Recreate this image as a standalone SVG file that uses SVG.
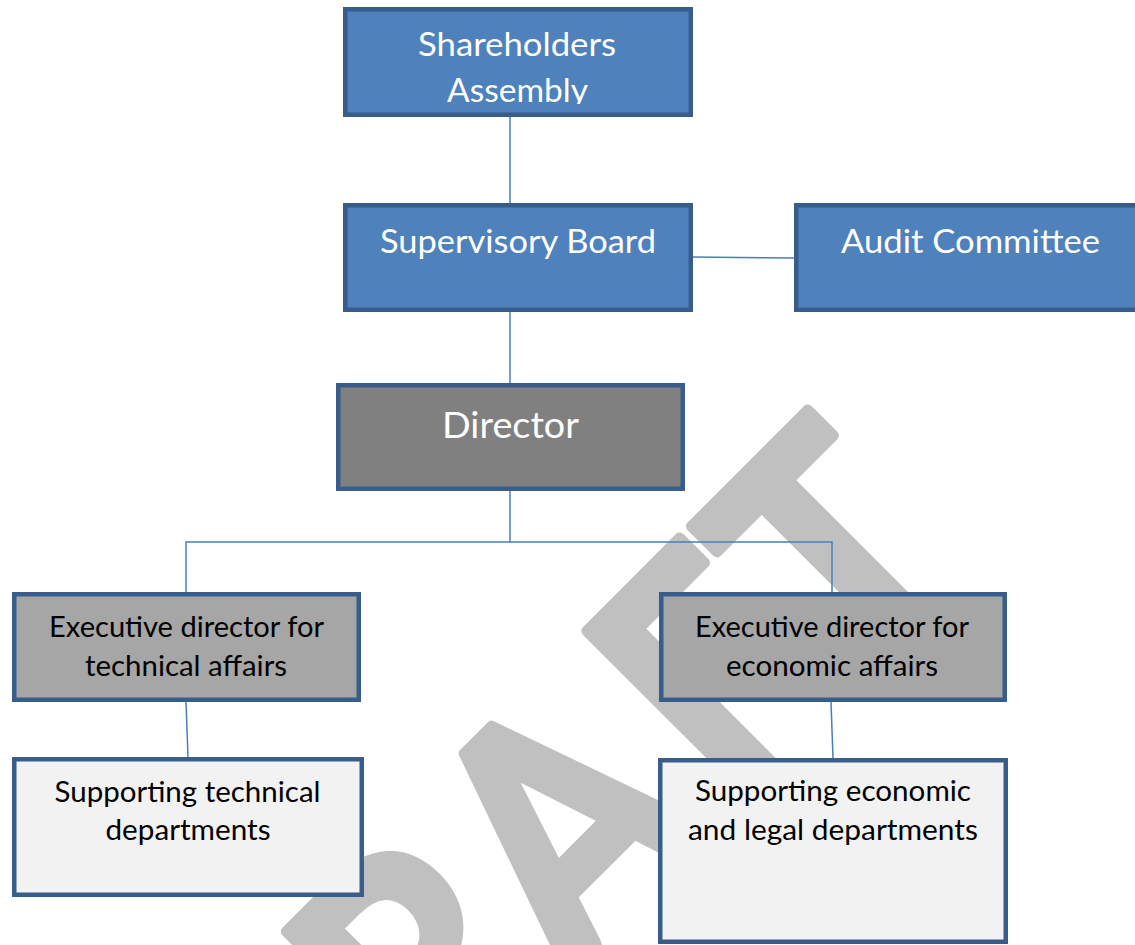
<svg xmlns="http://www.w3.org/2000/svg" width="1135" height="945" viewBox="0 0 1135 945">
  <style>
    .box { stroke: #385D8A; stroke-width: 4.5; }
    .blue { fill: #4F81BD; }
    .dark { fill: #808080; }
    .mid { fill: #A6A6A6; }
    .light { fill: #F2F2F2; }
    .lbl { font-family: Lato, "Open Sans", "Liberation Sans", sans-serif; text-anchor: middle; }
    .big { font-size: 33px; fill: #FFFFFF; }
    .dir { font-size: 37px; fill: #FFFFFF; }
    .small { font-size: 28px; fill: #000000; }
    .wire { stroke: #4A7EBB; stroke-width: 1.5; fill: none; }
    .mark { font-family: Lato, "Open Sans", "Liberation Sans", sans-serif; font-weight: 700; font-size: 290px; fill: #C0C0C0; stroke: #C0C0C0; stroke-width: 10; stroke-linejoin: round; }
  </style>
  <defs>
    <clipPath id="clip-assembly">
      <rect x="347" y="12" width="342" height="92"/>
    </clipPath>
  </defs>

  <rect width="1135" height="945" fill="#FFFFFF"/>

  <!-- watermark, laid out letter by letter along a 45 degree baseline -->
  <text class="mark" x="-699 -480 -286 -55 112" y="0" transform="translate(775 775) rotate(-45) scale(1 1.12)">DRAFT</text>

  <g id="connectors">
    <line class="wire" x1="510" y1="117" x2="510" y2="203"/>
    <line class="wire" x1="692" y1="257" x2="795" y2="258"/>
    <line class="wire" x1="510" y1="312" x2="510" y2="383"/>
    <polyline class="wire" points="510,491 510,542"/>
    <polyline class="wire" points="186,592 186,542 832,542 832,592"/>
    <line class="wire" x1="186" y1="702" x2="188" y2="757"/>
    <line class="wire" x1="831" y1="702" x2="833" y2="758"/>
  </g>

  <g id="shareholders">
    <rect class="box blue" x="345.25" y="9.25" width="345.5" height="105.5"/>
    <g clip-path="url(#clip-assembly)">
      <text class="lbl big" x="517" y="56" textLength="198" lengthAdjust="spacingAndGlyphs">Shareholders</text>
      <text class="lbl big" x="517.5" y="102" textLength="141" lengthAdjust="spacingAndGlyphs">Assembly</text>
    </g>
  </g>

  <g id="supervisory-board">
    <rect class="box blue" x="345.25" y="205.25" width="345.5" height="104.5"/>
    <text class="lbl big" x="518" y="253" textLength="276" lengthAdjust="spacingAndGlyphs">Supervisory Board</text>
  </g>

  <g id="audit-committee">
    <rect class="box blue" x="796.25" y="205.25" width="352" height="104.5"/>
    <text class="lbl big" x="970.5" y="253" textLength="259" lengthAdjust="spacingAndGlyphs">Audit Committee</text>
  </g>

  <g id="director">
    <rect class="box dark" x="338.25" y="385.25" width="344.5" height="103.5"/>
    <text class="lbl dir" x="510.5" y="438" textLength="137" lengthAdjust="spacingAndGlyphs">Director</text>
  </g>

  <g id="exec-technical">
    <rect class="box mid" x="14.25" y="594.25" width="344.5" height="105.5"/>
    <text class="lbl small" x="186.5" y="637" textLength="275" lengthAdjust="spacingAndGlyphs">Executive director for</text>
    <text class="lbl small" x="186" y="676" textLength="202" lengthAdjust="spacingAndGlyphs">technical affairs</text>
  </g>

  <g id="exec-economic">
    <rect class="box mid" x="661.25" y="594.25" width="343.5" height="105.5"/>
    <text class="lbl small" x="832" y="637" textLength="274" lengthAdjust="spacingAndGlyphs">Executive director for</text>
    <text class="lbl small" x="832" y="676" textLength="212" lengthAdjust="spacingAndGlyphs">economic affairs</text>
  </g>

  <g id="support-technical">
    <rect class="box light" x="14.25" y="759.25" width="347.5" height="135.5"/>
    <text class="lbl small" x="187.5" y="802" textLength="266" lengthAdjust="spacingAndGlyphs">Supporting technical</text>
    <text class="lbl small" x="188" y="840" textLength="165" lengthAdjust="spacingAndGlyphs">departments</text>
  </g>

  <g id="support-economic">
    <rect class="box light" x="660.25" y="760.25" width="345.5" height="181.5"/>
    <text class="lbl small" x="833" y="801" textLength="276" lengthAdjust="spacingAndGlyphs">Supporting economic</text>
    <text class="lbl small" x="833" y="840" textLength="290" lengthAdjust="spacingAndGlyphs">and legal departments</text>
  </g>
</svg>
